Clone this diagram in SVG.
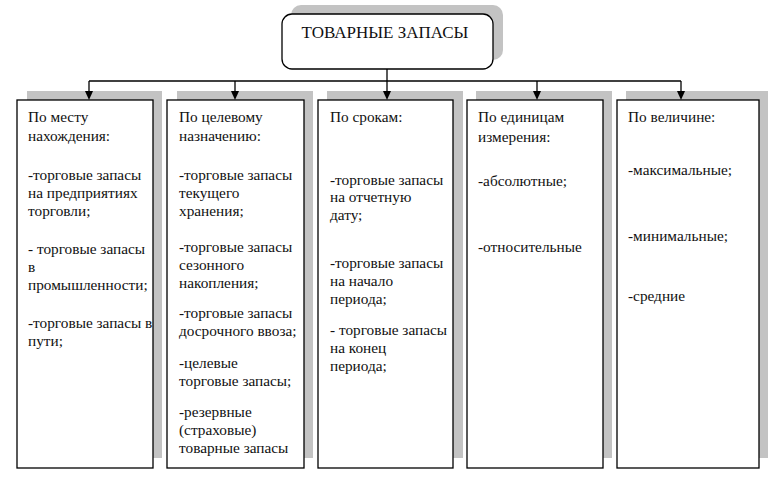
<svg xmlns="http://www.w3.org/2000/svg" width="780" height="477" viewBox="0 0 780 477">
<defs>
<style>
.sh{fill:#c3c3c3}
.bx{fill:#fff;stroke:#000;stroke-width:1.3}
.t{font-family:'Liberation Serif','DejaVu Serif',serif;font-size:15.3px;fill:#111}
.ln{stroke:#000;stroke-width:1.3;fill:none}
.ah{fill:#000}
</style>
</defs>
<rect width="780" height="477" fill="#fff"/>

<g id="root">
<rect class="sh" x="291" y="5" width="212" height="55" rx="10"/>
<rect class="bx" x="282" y="14" width="211" height="55" rx="10"/>
<text class="t" x="385" y="38" text-anchor="middle" style="font-size:17px">ТОВАРНЫЕ ЗАПАСЫ</text>
</g>

<g id="box1">
<rect class="sh" x="27" y="91" width="135" height="367"/>
<rect class="bx" x="17" y="100" width="136" height="368"/>
<text class="t">
<tspan x="28" y="122">По месту</tspan>
<tspan x="28" y="141">нахождения:</tspan>
<tspan x="28" y="180">-торговые запасы</tspan>
<tspan x="28" y="198">на предприятиях</tspan>
<tspan x="28" y="216">торговли;</tspan>
<tspan x="28" y="254">- торговые запасы</tspan>
<tspan x="28" y="272">в</tspan>
<tspan x="28" y="290">промышленности;</tspan>
<tspan x="28" y="328">-торговые запасы в</tspan>
<tspan x="28" y="346">пути;</tspan>
</text>
</g>

<g id="box2">
<rect class="sh" x="177" y="91" width="136" height="367"/>
<rect class="bx" x="167" y="100" width="137" height="368"/>
<text class="t">
<tspan x="179" y="122">По целевому</tspan>
<tspan x="179" y="141">назначению:</tspan>
<tspan x="179" y="180">-торговые запасы</tspan>
<tspan x="179" y="198">текущего</tspan>
<tspan x="179" y="216">хранения;</tspan>
<tspan x="179" y="252">-торговые запасы</tspan>
<tspan x="179" y="270">сезонного</tspan>
<tspan x="179" y="288">накопления;</tspan>
<tspan x="179" y="318">-торговые запасы</tspan>
<tspan x="179" y="336">досрочного ввоза;</tspan>
<tspan x="179" y="368">-целевые</tspan>
<tspan x="179" y="386">торговые запасы;</tspan>
<tspan x="179" y="417">-резервные</tspan>
<tspan x="179" y="435">(страховые)</tspan>
<tspan x="179" y="453">товарные запасы</tspan>
</text>
</g>

<g id="box3">
<rect class="sh" x="327" y="91" width="136" height="367"/>
<rect class="bx" x="318" y="100" width="135" height="368"/>
<text class="t">
<tspan x="330" y="122">По срокам:</tspan>
<tspan x="330" y="185">-торговые запасы</tspan>
<tspan x="330" y="202">на отчетную</tspan>
<tspan x="330" y="220">дату;</tspan>
<tspan x="330" y="268">-торговые запасы</tspan>
<tspan x="330" y="286">на начало</tspan>
<tspan x="330" y="304">периода;</tspan>
<tspan x="330" y="335">- торговые запасы</tspan>
<tspan x="330" y="353">на конец</tspan>
<tspan x="330" y="371">периода;</tspan>
</text>
</g>

<g id="box4">
<rect class="sh" x="476" y="91" width="136" height="367"/>
<rect class="bx" x="467" y="100" width="136" height="368"/>
<text class="t">
<tspan x="478" y="122">По единицам</tspan>
<tspan x="478" y="142">измерения:</tspan>
<tspan x="478" y="186">-абсолютные;</tspan>
<tspan x="478" y="252">-относительные</tspan>
</text>
</g>

<g id="box5">
<rect class="sh" x="626" y="91" width="142" height="367"/>
<rect class="bx" x="617" y="100" width="142" height="368"/>
<text class="t">
<tspan x="628" y="122">По величине:</tspan>
<tspan x="628" y="175">-максимальные;</tspan>
<tspan x="628" y="241">-минимальные;</tspan>
<tspan x="628" y="301">-средние</tspan>
</text>
</g>

<g id="connectors">
<path class="ln" d="M387,69 V92"/>
<path class="ln" d="M89,81 H681"/>
<path class="ln" d="M89,81 V92"/>
<path class="ln" d="M235,81 V92"/>
<path class="ln" d="M537,81 V92"/>
<path class="ln" d="M681,81 V92"/>
<polygon class="ah" points="85,91 93,91 89,100"/>
<polygon class="ah" points="231,91 239,91 235,100"/>
<polygon class="ah" points="383,91 391,91 387,100"/>
<polygon class="ah" points="533,91 541,91 537,100"/>
<polygon class="ah" points="677,91 685,91 681,100"/>
</g>
</svg>
